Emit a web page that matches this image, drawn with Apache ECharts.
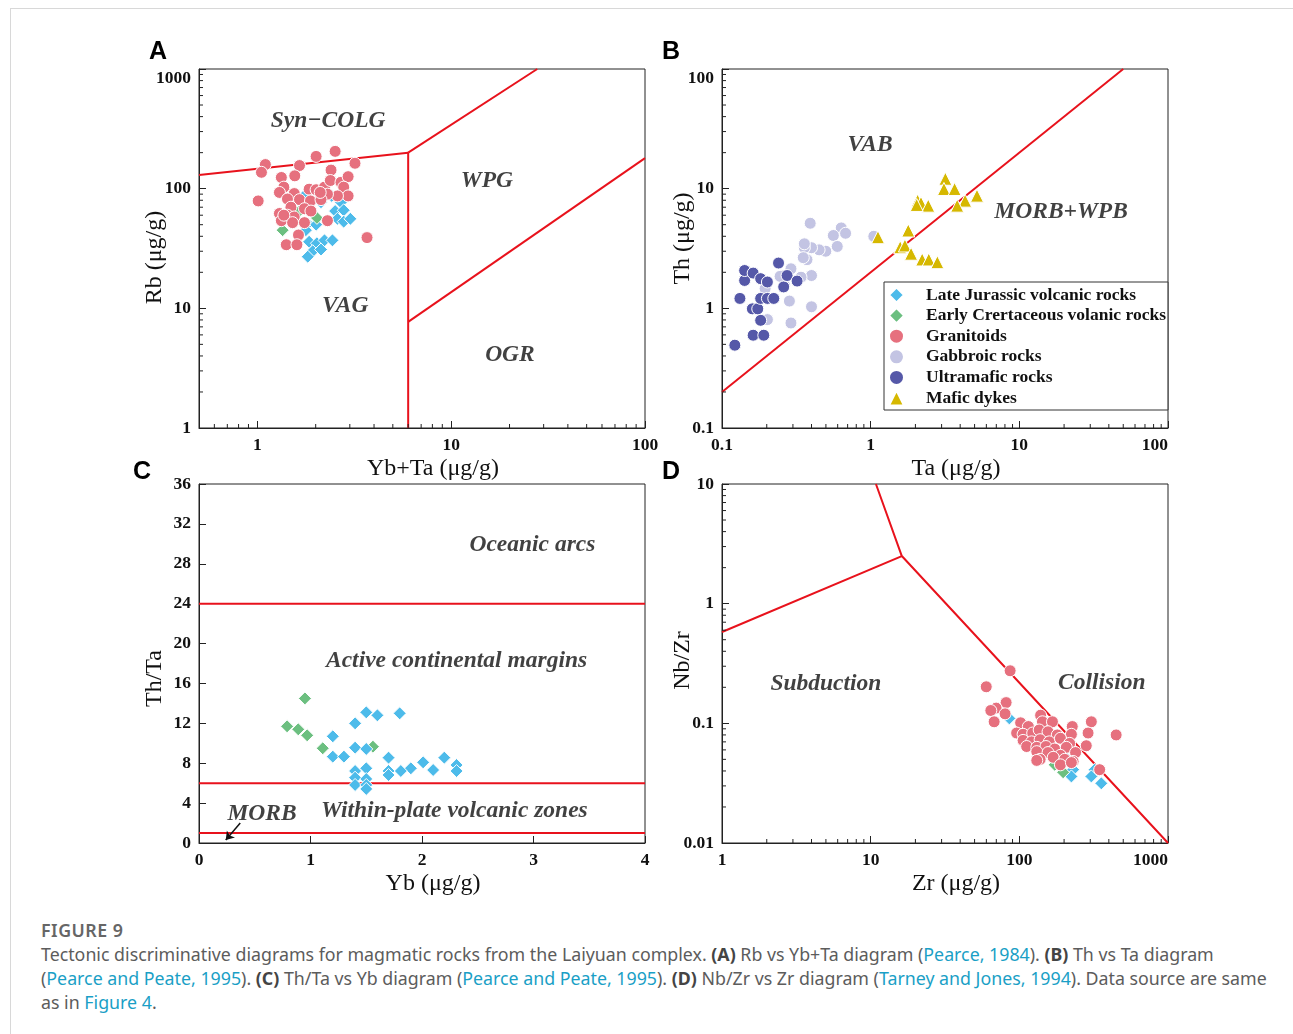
<!DOCTYPE html>
<html>
<head>
    <meta charset="utf-8">
    <title>Figure 9</title>
    <script src="https://cdn.jsdelivr.net/npm/echarts@6/dist/echarts.min.js"></script>
    <style>
        body { margin: 0; background: #fff; overflow: hidden; }
        #frame { position: absolute; left: 10px; top: 8px; width: 1283px; height: 1026px;
                 border-top: 1px solid #d8d8d8; border-left: 1px solid #d8d8d8; }
        #main { position: absolute; left: 0; top: 0; width: 1293px; height: 910px; }
        #cap { position: absolute; left: 41px; top: 918px; font-family: "Noto Sans", sans-serif;
               font-size: 17.8px; line-height: 24px; color: #5c5c5c; white-space: nowrap; }
        #cap .fig { font-weight: 600; color: #666; letter-spacing: 0.5px; }
        #cap a { color: #1a9fc6; text-decoration: none; }
        #cap b { color: #444; }
    </style>
</head>
<body>
<div id="frame"></div>
<div id="main"></div>
<div id="cap">
    <div class="fig">FIGURE 9</div>
    <div>Tectonic discriminative diagrams for magmatic rocks from the Laiyuan complex. <b>(A)</b> Rb vs Yb+Ta diagram (<a>Pearce, 1984</a>). <b>(B)</b> Th vs Ta diagram</div>
    <div>(<a>Pearce and Peate, 1995</a>). <b>(C)</b> Th/Ta vs Yb diagram (<a>Pearce and Peate, 1995</a>). <b>(D)</b> Nb/Zr vs Zr diagram (<a>Tarney and Jones, 1994</a>). Data source are same</div>
    <div>as in <a>Figure 4</a>.</div>
</div>
<script type="text/javascript">
    // --- data (A) Rb vs Yb+Ta
    var aGranitoids = [[1.10,159],[1.05,137],[1.65,156],[2.01,186],[2.52,205],[3.19,163],[2.40,143],[1.33,124],
        [1.56,128],[1.01,79],[1.37,103],[1.30,93],[1.55,91],[1.85,99],[2.01,98],[2.22,103],[2.38,117],[2.70,113],
        [2.94,126],[2.79,103],[2.94,87],[2.59,87],[2.30,90],[1.43,82],[1.65,81],[1.88,79],[2.13,81],[1.49,70],
        [1.75,68],[1.30,62],[1.43,60],[1.55,58],[1.89,65],[1.33,54],[1.52,52],[1.75,52],[2.30,54],[1.63,41],
        [1.41,34],[1.60,34],[3.68,39],[1.37,60],[2.11,93]];
    var aLateJurassic = [[1.78,90],[2.13,77],[2.42,87],[2.70,77],[2.52,65],[2.79,66],[2.59,56],[2.79,53],[3.02,56],
        [1.82,51],[1.78,45],[2.01,50],[1.85,36],[2.03,35],[2.22,37],[2.44,37],[1.93,30],[1.82,27],[2.13,31],[1.75,72]];
    var aEarlyCret = [[1.65,65],[2.03,57],[1.35,45]];
    var aBoundaries = [
        [[0.5,130],[6,200]],
        [[6,200],[27.8,1000]],
        [[6,1],[6,200]],
        [[6,7.7],[100,180]]
    ];
    var aRegions = [['Syn\u2212COLG',2.32,367],['WPG',15.3,116],['VAG',2.84,10.45],['OGR',20.1,4.07]];

    // --- data (B) Th vs Ta
    var bGabbroic = [[0.392,5.14],[0.634,4.70],[0.561,4.06],[0.678,4.24],[0.596,3.29],[0.499,3.00],[0.450,3.08],
        [0.400,3.21],[0.358,3.21],[0.358,3.46],[0.373,2.55],[0.352,2.65],[0.400,1.88],[0.291,2.14],[0.252,1.88],
        [0.263,1.56],[0.195,1.46],[0.284,1.15],[0.400,1.03],[0.202,0.805],[0.291,0.754],[0.340,1.82],[0.246,1.85],
        [1.05,4.0]];
    var bUltramafic = [[0.122,0.492],[0.162,0.596],[0.191,0.596],[0.182,0.794],[0.160,0.99],[0.174,0.99],[0.132,1.21],
        [0.182,1.21],[0.202,1.21],[0.223,1.21],[0.142,1.71],[0.142,2.07],[0.162,1.97],[0.182,1.77],[0.202,1.66],
        [0.260,1.51],[0.274,1.88],[0.320,1.69],[0.240,2.39]];
    var bMaficDykes = [[3.18,12.1],[3.11,9.94],[3.67,9.94],[2.07,7.94],[2.18,7.60],[2.44,7.21],[2.04,7.31],[5.19,8.74],
        [4.32,7.94],[3.82,7.21],[1.79,4.47],[1.12,3.93],[1.58,3.24],[1.70,3.35],[1.87,2.86],[2.22,2.56],[2.46,2.56],
        [2.81,2.43]];
    var bBoundaries = [[[0.1,0.2],[50,100]]];
    var bRegions = [['VAB',0.99,23.1],['MORB+WPB',19.1,6.37]];

    // --- data (C) Th/Ta vs Yb
    var cEarlyCret = [[0.95,14.5],[0.79,11.7],[0.89,11.4],[0.97,10.8],[1.11,9.5],[1.56,9.66]];
    var cLateJurassic = [[1.50,13.1],[1.60,12.8],[1.80,13.0],[1.40,12.0],[1.20,10.7],[1.40,9.56],[1.50,9.43],[1.20,8.66],
        [1.30,8.66],[1.70,8.56],[2.01,8.09],[2.20,8.56],[2.31,7.82],[2.31,7.22],[1.90,7.49],[1.81,7.22],[1.70,7.22],
        [1.70,6.82],[2.10,7.32],[1.40,7.22],[1.50,7.49],[1.40,6.55],[1.50,6.42],[1.40,5.82],[1.50,5.82],[1.50,5.42]];
    var cBoundaries = [[[0,24],[4,24]], [[0,6],[4,6]], [[0,1],[4,1]]];
    var cRegions = [['Oceanic arcs',2.99,29.9],['Active continental margins',2.31,18.25],
        ['Within-plate volcanic zones',2.29,3.2],['MORB',0.565,2.9]];
    var cArrow = [[0.37,2.0],[0.24,0.3]];

    // --- data (D) Nb/Zr vs Zr
    var dGranitoids = [[86.7,0.275],[59.9,0.202],[81.5,0.149],[69.8,0.134],[64.3,0.128],[67.7,0.103],[80.2,0.120],
        [102,0.101],[139,0.117],[143,0.103],[167,0.103],[115,0.094],[95.9,0.083],[106,0.081],[123,0.083],[136,0.088],
        [156,0.085],[180,0.080],[227,0.094],[224,0.081],[305,0.103],[290,0.083],[448,0.080],[106,0.072],[121,0.070],
        [138,0.073],[159,0.070],[189,0.075],[218,0.068],[282,0.065],[112,0.064],[131,0.063],[151,0.064],[173,0.061],
        [207,0.063],[239,0.057],[131,0.058],[156,0.057],[189,0.054],[138,0.050],[169,0.052],[202,0.050],[230,0.048],
        [131,0.049],[189,0.045],[224,0.047],[347,0.041]];
    var dLateJurassic = [[85.7,0.110],[205,0.052],[230,0.041],[321,0.041],[356,0.0315],[305,0.036],[224,0.036]];
    var dEarlyCret = [[197,0.039],[173,0.045]];
    var dBoundaries = [[[1,0.58],[16.2,2.5]], [[10.85,10],[16.2,2.5],[1000,0.01]]];
    var dRegions = [['Subduction',5.0,0.213],['Collision',359,0.217]];

    // minor tick multipliers for log axes
    var minorMult = [2, 3, 4, 5, 6, 7, 8, 9];

    var names = ['Late Jurassic volcanic rocks', 'Early Crertaceous volanic rocks', 'Granitoids',
        'Gabbroic rocks', 'Ultramafic rocks', 'Mafic dykes'];
    var colors = ['#4dbbea', '#6cbf80', '#e6707e', '#c3c4e3', '#5558a8', '#d6b800'];

    var serif = '"Liberation Serif", "Times New Roman", serif';
    var myChart = echarts.init(document.getElementById('main'), null, {renderer: 'canvas'});

    var grids = [
        {left: 199, top: 69, width: 446, height: 359},
        {left: 722, top: 69, width: 446, height: 359},
        {left: 199, top: 484, width: 446, height: 359},
        {left: 722, top: 484, width: 446, height: 359}
    ];
    grids.forEach(function (g) {
        g.show = true;
        g.borderColor = '#222';
        g.borderWidth = 1;
        g.containLabel = false;
    });

    function logLabel(v) {
        var l = Math.log10(v);
        if (Math.abs(l - Math.round(l)) > 1e-6) return '';
        l = Math.round(l);
        return l >= 0 ? String(Math.round(v)) : v.toFixed(-l);
    }

    function axis(gi, type, min, max, name, gap, pad) {
        var a = {
            type: type, gridIndex: gi, min: min, max: max,
            name: name, nameLocation: 'middle', nameGap: gap, nameMoveOverlap: false,
            nameTextStyle: {fontFamily: serif, fontSize: 24, color: '#111', padding: pad},
            axisLine: {show: true, onZero: false, lineStyle: {color: '#222', width: 1}},
            axisTick: {show: true, inside: true, length: 7, lineStyle: {color: '#222'}},
            axisLabel: {fontFamily: serif, fontWeight: 'bold', fontSize: 17.5, color: '#111', margin: 8},
            splitLine: {show: false}
        };
        if (type === 'log') {
            a.logBase = 10;
            a.axisLabel.formatter = logLabel;
        }
        return a;
    }

    var xPad = [0, 0, 0, 22];
    var xAxes = [
        axis(0, 'log', 0.5, 100, 'Yb+Ta (\u03bcg/g)', 29, xPad),
        axis(1, 'log', 0.1, 100, 'Ta (\u03bcg/g)', 29, xPad),
        axis(2, 'value', 0, 4, 'Yb (\u03bcg/g)', 29, xPad),
        axis(3, 'log', 1, 1000, 'Zr (\u03bcg/g)', 29, xPad)
    ];
    xAxes[2].interval = 1;
    xAxes[1].axisLabel.alignMaxLabel = 'right';
    xAxes[3].axisLabel.alignMaxLabel = 'right';
    var yAxes = [
        axis(0, 'log', 1, 1000, 'Rb (\u03bcg/g)', 32, [0, 18, 0, 0]),
        axis(1, 'log', 0.1, 100, 'Th (\u03bcg/g)', 27, [0, 0, 0, 20]),
        axis(2, 'value', 0, 36, 'Th/Ta', 32, [0, 30, 0, 0]),
        axis(3, 'log', 0.01, 10, 'Nb/Zr', 27, [0, 0, 0, 6])
    ];
    yAxes[2].interval = 4;
    yAxes[0].axisLabel.verticalAlignMaxLabel = 'top';
    yAxes[1].axisLabel.verticalAlignMaxLabel = 'top';

    function minorTicks(gi, dim, decades, other, lo, hi) {
        var vals = [];
        decades.forEach(function (d) {
            minorMult.forEach(function (m) {
                var v = m * d;
                if (v > lo * 1.0001 && v < hi * 0.9999) vals.push(v);
            });
        });
        return {
            type: 'custom', xAxisIndex: gi, yAxisIndex: gi, silent: true, z: 6,
            data: vals.map(function (v) { return dim === 'x' ? [v, other] : [other, v]; }),
            renderItem: function (params, api) {
                var cs = params.coordSys;
                var p = api.coord([api.value(0), api.value(1)]);
                var shape = dim === 'x'
                    ? {x1: p[0], y1: cs.y + cs.height, x2: p[0], y2: cs.y + cs.height - 4}
                    : {x1: cs.x, y1: p[1], x2: cs.x + 4, y2: p[1]};
                return {type: 'line', shape: shape, style: {stroke: '#222', lineWidth: 1}};
            }
        };
    }

    function scatter(idx, gi, data, symbol, size, z) {
        return {
            name: names[idx], type: 'scatter', xAxisIndex: gi, yAxisIndex: gi,
            data: data, symbol: symbol, symbolSize: size, z: z, silent: true,
            itemStyle: {color: colors[idx], borderColor: '#fff', borderWidth: 1, opacity: 1}
        };
    }

    function redLines(gi, list) {
        return list.map(function (d) {
            return {
                type: 'line', xAxisIndex: gi, yAxisIndex: gi, data: d, symbol: 'none',
                lineStyle: {color: '#e8121c', width: 2}, silent: true, z: 1
            };
        });
    }

    function regionText(gi, list) {
        return {
            type: 'scatter', xAxisIndex: gi, yAxisIndex: gi, symbolSize: 0, silent: true, z: 8,
            data: list.map(function (r) { return {name: r[0], value: [r[1], r[2]]}; }),
            label: {
                show: true, position: 'inside', formatter: '{b}',
                fontFamily: serif, fontStyle: 'italic', fontWeight: 'bold', fontSize: 23.5, color: '#111'
            }
        };
    }

    var series = [];
    series = series.concat(redLines(0, aBoundaries), redLines(1, bBoundaries),
        redLines(2, cBoundaries), redLines(3, dBoundaries));
    series.push(
        minorTicks(0, 'x', [0.1, 1, 10], 1, 0.5, 100),
        minorTicks(0, 'y', [1, 10, 100], 0.5, 1, 1000),
        minorTicks(1, 'x', [0.1, 1, 10], 0.1, 0.1, 100),
        minorTicks(1, 'y', [0.1, 1, 10], 0.1, 0.1, 100),
        minorTicks(3, 'x', [1, 10, 100], 0.01, 1, 1000),
        minorTicks(3, 'y', [0.01, 0.1, 1], 1, 0.01, 10)
    );
    series.push(
        scatter(0, 0, aLateJurassic, 'diamond', 13, 3),
        scatter(1, 0, aEarlyCret, 'diamond', 13, 3),
        scatter(2, 0, aGranitoids, 'circle', 12, 4),
        scatter(3, 1, bGabbroic, 'circle', 12, 3),
        scatter(4, 1, bUltramafic, 'circle', 12, 4),
        scatter(5, 1, bMaficDykes, 'triangle', 13, 5),
        scatter(1, 2, cEarlyCret, 'diamond', 13, 3),
        scatter(0, 2, cLateJurassic, 'diamond', 13, 3),
        scatter(0, 3, dLateJurassic, 'diamond', 13, 3),
        scatter(1, 3, dEarlyCret, 'diamond', 13, 3),
        scatter(2, 3, dGranitoids, 'circle', 12, 4)
    );
    series.push(regionText(0, aRegions), regionText(1, bRegions), regionText(2, cRegions), regionText(3, dRegions));
    series.push({
        type: 'lines', coordinateSystem: 'cartesian2d', xAxisIndex: 2, yAxisIndex: 2, silent: true, z: 8,
        data: [{coords: cArrow}], symbol: ['none', 'arrow'], symbolSize: 8,
        lineStyle: {color: '#111', width: 1.5, opacity: 1}
    });

    var letterStyle = {fontFamily: '"Liberation Sans", Arial, sans-serif', fontWeight: 'bold', fontSize: 25, color: '#000'};
    var option = {
        animation: false,
        title: [
            {text: 'A', left: 149, top: 40, padding: 0, textStyle: letterStyle},
            {text: 'B', left: 662, top: 40, padding: 0, textStyle: letterStyle},
            {text: 'C', left: 133, top: 460, padding: 0, textStyle: letterStyle},
            {text: 'D', left: 662, top: 460, padding: 0, textStyle: letterStyle}
        ],
        legend: {
            left: 884, top: 282, orient: 'vertical', selectedMode: false,
            padding: [4, 2, 3, 4], itemWidth: 15, itemHeight: 15, itemGap: 2.6,
            borderColor: '#333', borderWidth: 1, backgroundColor: '#fff',
            textStyle: {fontFamily: serif, fontWeight: 'bold', fontSize: 17.5, lineHeight: 16, color: '#111',
                padding: [0, 0, 0, 17]},
            data: [
                {name: names[0], icon: 'diamond'},
                {name: names[1], icon: 'diamond'},
                {name: names[2], icon: 'circle'},
                {name: names[3], icon: 'circle'},
                {name: names[4], icon: 'circle'},
                {name: names[5], icon: 'triangle'}
            ]
        },
        grid: grids,
        xAxis: xAxes,
        yAxis: yAxes,
        series: series
    };

    myChart.setOption(option);
</script>
</body>
</html>
